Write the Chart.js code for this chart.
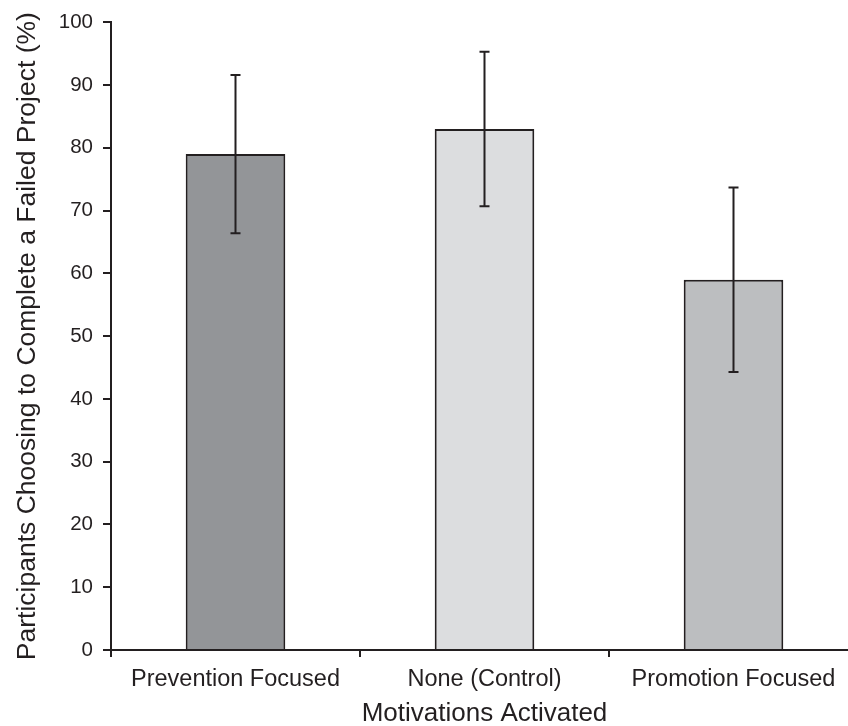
<!DOCTYPE html>
<html>
<head>
<meta charset="utf-8">
<script src="https://cdn.jsdelivr.net/npm/chart.js@4"></script>
<style>
  html, body { margin: 0; padding: 0; background: #fff; overflow: hidden; }
  #wrap { width: 858px; height: 726px; }
</style>
</head>
<body>
<div id="wrap"><canvas id="c" width="858" height="726"></canvas></div>
<script>
const categories = ['Prevention Focused', 'None (Control)', 'Promotion Focused'];
const values = [79, 83, 59];
const errors = [12.6, 12.3, 14.7];
const barColors = ['#939598', '#dcdddf', '#bcbec0'];
const yTicks = [0, 10, 20, 30, 40, 50, 60, 70, 80, 90, 100];

const INK = '#231f20';
const FONT = "'Liberation Sans', Arial, Helvetica, sans-serif";

const errorBarPlugin = {
  id: 'errorBars',
  afterDatasetsDraw(chart) {
    const ctx = chart.ctx;
    const meta = chart.getDatasetMeta(0);
    const y = chart.scales.y;
    ctx.save();
    ctx.strokeStyle = INK;
    ctx.lineWidth = 2;
    meta.data.forEach((bar, i) => {
      const x = bar.x;
      const hi = y.getPixelForValue(values[i] + errors[i]);
      const lo = y.getPixelForValue(values[i] - errors[i]);
      ctx.beginPath();
      ctx.moveTo(x, hi); ctx.lineTo(x, lo);
      ctx.moveTo(x - 5, hi); ctx.lineTo(x + 5, hi);
      ctx.moveTo(x - 5, lo); ctx.lineTo(x + 5, lo);
      ctx.stroke();
    });
    ctx.restore();
  }
};

new Chart(document.getElementById('c'), {
  type: 'bar',
  data: {
    labels: categories,
    datasets: [{
      data: values,
      backgroundColor: barColors,
      borderColor: INK,
      borderWidth: 2,
      barPercentage: 0.4,
      categoryPercentage: 1.0
    }]
  },
  options: {
    responsive: false,
    animation: false,
    devicePixelRatio: 1,
    layout: { padding: { top: 21, right: 0, bottom: 0, left: 0 } },
    plugins: { legend: { display: false }, tooltip: { enabled: false } },
    scales: {
      x: {
        offset: true,
        grid: { offset: true, drawOnChartArea: false, drawTicks: true, tickLength: 7, color: INK, lineWidth: 2 },
        border: { display: true, color: INK, width: 2 },
        ticks: { color: INK, font: { family: FONT, size: 23.5 }, padding: 8, maxRotation: 0 },
        title: { display: true, text: 'Motivations Activated', color: INK, font: { family: FONT, size: 26 }, padding: { top: 0, bottom: -3 } },
        afterFit(scale) { scale.height = 76; }
      },
      y: {
        min: 0, max: 100,
        afterBuildTicks(scale) { scale.ticks = yTicks.map(v => ({ value: v })); },
        grid: { drawOnChartArea: false, drawTicks: true, tickLength: 8, color: INK, lineWidth: 2 },
        border: { display: true, color: INK, width: 2 },
        ticks: { color: INK, font: { family: FONT, size: 20.5 }, padding: 10 },
        title: { display: true, text: 'Participants Choosing to Complete a Failed Project (%)', color: INK, font: { family: FONT, size: 26.5 }, padding: { top: 12, bottom: 0 } },
        afterFit(scale) { scale.width = 111; }
      }
    }
  },
  plugins: [errorBarPlugin]
});
</script>
</body>
</html>
